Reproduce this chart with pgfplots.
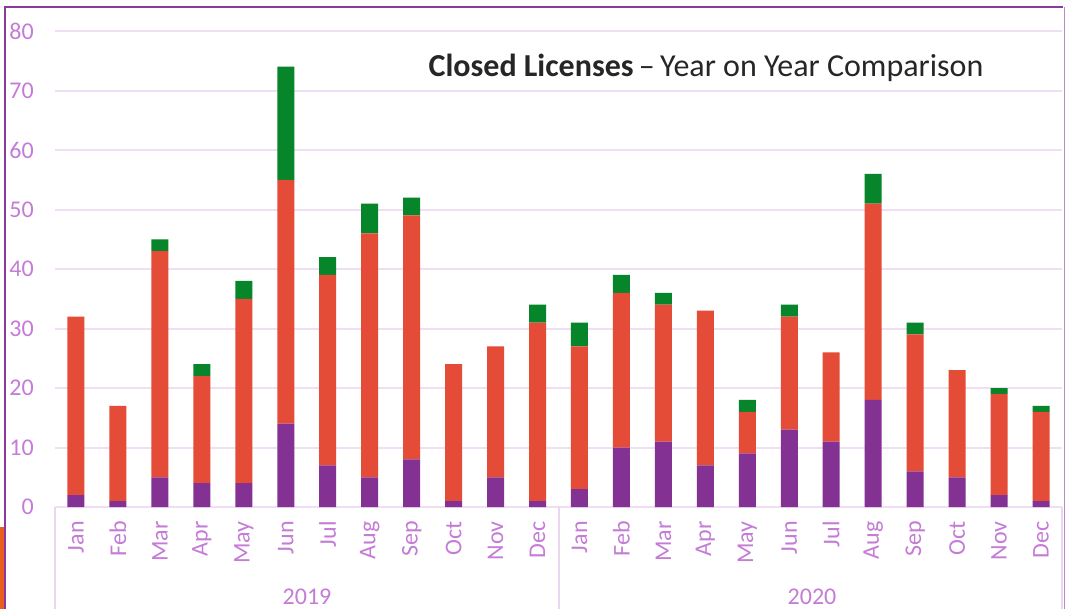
\documentclass[border=0pt]{standalone}
\usepackage{pgfplots}
\pgfplotsset{compat=1.18}
\usepackage{pgfplotstable}
\usepackage{fontspec}
\setmainfont{Carlito}
\definecolor{pbar}{HTML}{833294}
\definecolor{rbar}{HTML}{E54C38}
\definecolor{gbar}{HTML}{07852A}
\definecolor{labc}{HTML}{C47CD6}
\definecolor{gridc}{HTML}{F0DEF4}
\definecolor{sepc}{HTML}{EAD6EF}
\definecolor{bordc}{HTML}{8A3A9C}
\definecolor{bordr}{HTML}{B98AC4}
\definecolor{orangec}{HTML}{E8601C}
\definecolor{titlec}{HTML}{262626}

\pgfplotstableread{
x p r g
0 2 30 0
1 1 16 0
2 5 38 2
3 4 18 2
4 4 31 3
5 14 41 19
6 7 32 3
7 5 41 5
8 8 41 3
9 1 23 0
10 5 22 0
11 1 30 3
12 3 24 4
13 10 26 3
14 11 23 2
15 7 26 0
16 9 7 2
17 13 19 2
18 11 15 0
19 18 33 5
20 6 23 2
21 5 18 0
22 2 17 1
23 1 15 1
}\datatable

\begin{document}
\begin{tikzpicture}
\begin{scope}[x=0.75pt,y=0.75pt]
\fill[white] (0,0) rectangle (1066,609);
\useasboundingbox (0,0) rectangle (1066,609);
\end{scope}
\begin{axis}[
  at={(41.25pt,76.5pt)}, anchor=south west,
  scale only axis, width=755.25pt, height=357pt,
  xmin=-0.5, xmax=23.5, ymin=0, ymax=80,
  ybar stacked, bar width=12.75pt,
  ytick={0,10,...,80},
  xtick={0,...,23},
  xticklabels={Jan,Feb,Mar,Apr,May,Jun,Jul,Aug,Sep,Oct,Nov,Dec,Jan,Feb,Mar,Apr,May,Jun,Jul,Aug,Sep,Oct,Nov,Dec},
  axis line style={draw=none},
  major tick length=0pt,
  ymajorgrids, grid style={gridc, line width=1.5pt},
  tick label style={font=\fontsize{18}{20}\selectfont, text=labc, inner sep=0pt},
  /pgf/number format/assume math mode=true,
  yticklabel shift=15.75pt,
  xticklabel shift=10.5pt,
  xticklabel style={rotate=90, anchor=east},
  clip=false,
]
\addplot[fill=pbar, draw=none] table[x=x, y=p] {\datatable};
\addplot[fill=rbar, draw=none] table[x=x, y=r] {\datatable};
\addplot[fill=gbar, draw=none] table[x=x, y=g] {\datatable};
\end{axis}
\begin{scope}[x=0.75pt,y=0.75pt]
\draw[sepc, line width=1.5pt] (55,102) -- (55,0);
\draw[sepc, line width=1.5pt] (558.5,102) -- (558.5,0);
\draw[sepc, line width=1.5pt] (1062,102) -- (1062,0);
\node[font=\fontsize{18}{20}\selectfont, text=labc] at (307,12) {2019};
\node[font=\fontsize{18}{20}\selectfont, text=labc] at (812,12) {2020};
\node[font=\fontsize{24}{28}\selectfont, text=titlec] at (706,541) {\textbf{Closed Licenses}\,–\,Year on Year Comparison};
\draw[bordc, line width=1.8pt] (5,0) -- (5,602) -- (1063,602);
\draw[bordr, line width=0.9pt] (1064.5,602) -- (1064.5,0);
\fill[orangec] (0,0) rectangle (4,82);
\end{scope}
\end{tikzpicture}
\end{document}
